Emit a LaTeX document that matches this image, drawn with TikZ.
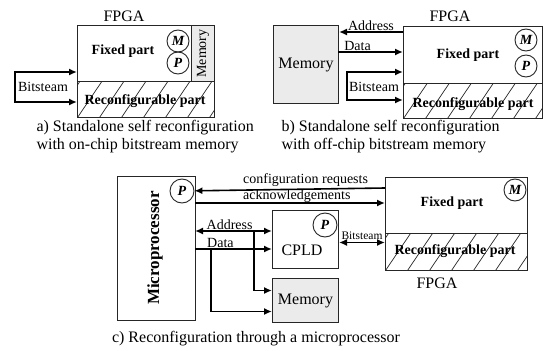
\documentclass[tikz,border=0pt]{standalone}
\usepackage{fontspec}
\setmainfont{Liberation Serif}
\usetikzlibrary{arrows.meta}

\begin{document}
\begin{tikzpicture}[x=1pt,y=-1pt,
  box/.style={draw=black!85,line width=1pt,anchor=north west,inner sep=0pt},
  memfill/.style={fill=black!8},
  hatch/.style={path picture={\foreach \k in {-2,...,7}
      \draw[line width=0.7pt] ([xshift=\k*22pt]path picture bounding box.south west) -- ++(27pt,40pt);}},
  unit/.style={draw=black!85,line width=0.9pt,circle,minimum size=22pt,inner sep=0pt,
      font=\fontsize{14}{14}\selectfont\bfseries\itshape},
  bus/.style={line width=1.6pt,-{Latex[length=8pt,width=7pt]}},
  bbus/.style={line width=1.6pt,{Latex[length=8pt,width=7pt]}-{Latex[length=8pt,width=7pt]}},
  lbl/.style={font=\fontsize{14}{16}\selectfont,inner sep=1pt},
  part/.style={font=\fontsize{14}{16}\selectfont\bfseries},
  chip/.style={font=\fontsize{16}{18}\selectfont},
  subcap/.style={font=\fontsize{16}{18}\selectfont,align=left,anchor=west}]
\path[fill=white,use as bounding box] (0,0) rectangle (547,351);

% a) bitstream memory inside the FPGA
\node[box,minimum width=137pt,minimum height=56pt] (fa) at (77,25) {};
\node[box,hatch,minimum width=137pt,minimum height=36pt] (ra) at (77,81) {};
\node[box,memfill,minimum width=23pt,minimum height=56pt] (mema) at (191,25) {};
\node[lbl,rotate=90] (memla) at (mema.center) {Memory};
\node[unit] (ma) at (178,41) {M};
\node[unit] (pa) at (178,63) {P};
\node[part] (fpa) at (123,51) {Fixed part};
\node[part] (rpa) at (145,101) {Reconfigurable part};
\node[chip] (fpgaa) at (124,16) {FPGA};

\coordinate (bsa) at (15,72);
\coordinate (bsb) at (15,102);
\draw[bbus] (bsa -| fa.west) -- (bsa) -- (bsb) -- (bsb -| ra.west);
\node[lbl] (bsla) at (43,87) {Bitsteam};

\node[subcap] (capa) at (33,137) {a) Standalone self reconfiguration\\with on-chip bitstream memory};

% b) bitstream memory outside the FPGA
\node[box,memfill,minimum width=65pt,minimum height=78pt] (memb) at (273,25) {};
\node[chip] (memlb) at (memb.center) {Memory};
\node[box,minimum width=139pt,minimum height=57pt] (fb) at (403,26) {};
\node[box,hatch,minimum width=139pt,minimum height=35pt] (rb) at (403,83) {};
\node[unit] (mb) at (526,40) {M};
\node[unit] (pb) at (526,66) {P};
\node[part] (fpb) at (468,55) {Fixed part};
\node[part] (rpb) at (473,104) {Reconfigurable part};
\node[chip] (fpgab) at (450,16) {FPGA};

\coordinate (adrb) at (403,32);
\draw[bus] (adrb) -- (adrb -| memb.east) node[lbl,midway,above] (adrlb) {Address};
\coordinate (datb) at (338,52);
\draw[bus] (datb) -- (datb -| fb.west) node[lbl,pos=0.3,above] (datlb) {Data};
\coordinate (bsc) at (347,72);
\coordinate (bsd) at (347,100);
\draw[bbus] (bsc -| fb.west) -- (bsc) -- (bsd) -- (bsd -| rb.west);
\node[lbl] (bslb) at (374,87) {Bitsteam};

\node[subcap] (capb) at (278,137) {b) Standalone self reconfiguration\\with off-chip bitstream memory};

% c) reconfiguration driven by a microprocessor
\node[box,minimum width=78pt,minimum height=144pt] (mp) at (117,176) {};
\node[font=\fontsize{17}{17}\selectfont\bfseries,rotate=90] (mpl) at (155,248) {Microprocessor};
\node[unit,minimum size=24pt] (pc) at (182,191) {P};
\node[box,minimum width=66pt,minimum height=58pt] (cpld) at (272,210) {};
\node[chip] (cpldl) at (302,250) {CPLD};
\node[unit,minimum size=24pt] (pd) at (325,225) {P};
\node[box,memfill,minimum width=66pt,minimum height=44pt] (memc) at (272,278) {};
\node[chip] (memlc) at (memc.center) {Memory};
\node[box,minimum width=142pt,minimum height=56pt] (fc) at (385,177) {};
\node[box,hatch,minimum width=142pt,minimum height=37pt] (rc) at (385,233) {};
\node[unit] (mc) at (515,190) {M};
\node[part] (fpc) at (452,203) {Fixed part};
\node[part] (rpc) at (455,251) {Reconfigurable part};
\node[chip] (fpgac) at (437,283) {FPGA};

\coordinate (reqc) at (385,188);
\draw[bus] (reqc) -- (pc);
\node[lbl,anchor=base west,inner sep=0pt] (reql) at (243,183) {configuration requests};
\coordinate (ackc) at (195,203);
\draw[bus] (ackc) -- (ackc -| fc.west);
\node[lbl,anchor=base west,inner sep=0pt] (ackl) at (243,199) {acknowledgements};
\coordinate (adrc) at (195,231);
\draw[bbus] (adrc) -- (adrc -| cpld.west) node[lbl,pos=0.45,above] (adrlc) {Address};
\coordinate (adrj) at (254,231);
\draw[bus] (adrj) |- ([yshift=10pt]memc.west);
\coordinate (datc) at (195,249);
\draw[bus] (datc) -- (datc -| cpld.west) node[lbl,pos=0.33,above] (datlc) {Data};
\coordinate (datj) at (211,249);
\draw[bus] (datj) |- ([yshift=-11pt]memc.west);
\coordinate (bse) at ([yshift=-3pt]cpld.east);
\draw[bbus] (bse) -- (bse -| rc.west) node[midway,above,inner sep=2pt,font=\fontsize{11.5}{12}\selectfont] (bslc) {Bitsteam};

\node[chip] (capc) at (256,339) {c) Reconfiguration through a microprocessor};
\end{tikzpicture}
\end{document}
